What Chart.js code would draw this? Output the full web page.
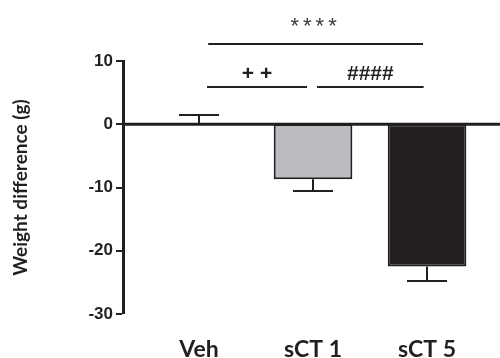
<!DOCTYPE html>
<html>
<head>
<meta charset="utf-8">
<script src="https://cdn.jsdelivr.net/npm/chart.js@4/dist/chart.umd.min.js"></script>
<style>
  html, body { margin: 0; padding: 0; background: #fff; }
  #wrap { width: 500px; height: 358px; }
</style>
</head>
<body>
<div id="wrap"><canvas id="weightChart"></canvas></div>
<script>
// groups and their mean weight change (g) with SEM
const groups = ['Veh', 'sCT 1', 'sCT 5'];
const meanDiff = [0.1, -8.7, -22.5];
const semDiff = [1.4, 1.85, 2.3];
const yTicks = [-30, -20, -10, 0, 10];

// significance brackets: from group index, to group index, height (g), label
const bracketFrom = [0.08, 0.07, 1.035];
const bracketTo = [1.965, 0.947, 1.97];
const bracketAt = [12.7, 5.9, 5.9];
const bracketLabel = ['****', '+ +', '####'];

const INK = '#231f20';
const FILLS = ['#ffffff', '#bbbcbf', '#231f20'];

// zero line across the plot, then error bars (only away from zero, like Prism)
const errorBars = {
    id: 'errorBars',
    afterDatasetsDraw(chart) {
        const { ctx, chartArea, scales: { x, y } } = chart;
        ctx.save();
        ctx.strokeStyle = INK;
        ctx.lineWidth = 3;
        const zero = y.getPixelForValue(0);
        ctx.beginPath();
        ctx.moveTo(chartArea.left, zero);
        ctx.lineTo(chartArea.right, zero);
        ctx.stroke();

        ctx.lineWidth = 2;
        meanDiff.forEach((m, i) => {
            const px = Math.round(x.getPixelForValue(i));
            const end = m >= 0 ? m + semDiff[i] : m - semDiff[i];
            const y0 = y.getPixelForValue(m);
            const y1 = Math.round(y.getPixelForValue(end));
            ctx.beginPath();
            ctx.moveTo(px, y0);
            ctx.lineTo(px, y1);
            ctx.moveTo(px - 20, y1);
            ctx.lineTo(px + 20, y1);
            ctx.stroke();
        });
        ctx.restore();
    }
};

const brackets = {
    id: 'brackets',
    afterDraw(chart) {
        const { ctx, scales: { x, y } } = chart;
        ctx.save();
        ctx.strokeStyle = INK;
        ctx.fillStyle = INK;
        ctx.lineWidth = 2;
        ctx.textAlign = 'center';
        ctx.textBaseline = 'alphabetic';
        bracketLabel.forEach((label, i) => {
            const x0 = x.getPixelForValue(bracketFrom[i]);
            const x1 = x.getPixelForValue(bracketTo[i]);
            const py = Math.round(y.getPixelForValue(bracketAt[i]));
            ctx.beginPath();
            ctx.moveTo(x0, py);
            ctx.lineTo(x1, py);
            ctx.stroke();
            const stars = label.includes('*');
            ctx.font = stars ? '22px "Liberation Sans"' : 'bold 21px "Liberation Sans"';
            ctx.letterSpacing = stars ? '4px' : '0px';
            ctx.fillStyle = stars ? '#3a3a3a' : INK;
            ctx.fillText(label, (x0 + x1) / 2, py - (stars ? 11 : 7));
        });
        ctx.restore();
    }
};

new Chart(document.getElementById('weightChart'), {
    type: 'bar',
    data: {
        datasets: [{
            data: meanDiff.map((v, i) => ({ x: i, y: v })),
            backgroundColor: FILLS,
            borderColor: INK,
            borderWidth: 2,
            borderSkipped: false,
            categoryPercentage: 1,
            barPercentage: 0.69
        }]
    },
    options: {
        responsive: true,
        maintainAspectRatio: false,
        animation: false,
        layout: { padding: { top: 61, right: 0, bottom: 0, left: 0 } },
        plugins: {
            legend: { display: false },
            tooltip: { enabled: false }
        },
        scales: {
            x: {
                type: 'linear',
                min: -0.667,
                max: 2.64,
                offset: false,
                grid: { display: false, offset: false },
                border: { display: false },
                afterBuildTicks: (scale) => {
                    scale.ticks = groups.map((_, i) => ({ value: i }));
                },
                afterFit: (scale) => { scale.height = 44; },
                ticks: {
                    autoSkip: false,
                    maxRotation: 0,
                    padding: 14,
                    color: INK,
                    font: { family: 'Lato', weight: 'bold', size: 23 },
                    callback: (v) => groups[v] ?? ''
                }
            },
            y: {
                min: -30,
                max: 10,
                z: 1,
                afterBuildTicks: (scale) => {
                    scale.ticks = yTicks.map(v => ({ value: v }));
                },
                afterFit: (scale) => { scale.width = 123; },
                grid: {
                    drawOnChartArea: false,
                    lineWidth: 0,
                    tickColor: INK,
                    tickLength: 7,
                    tickWidth: 2
                },
                border: { display: true, color: INK, width: 3 },
                ticks: {
                    padding: 3,
                    color: INK,
                    font: { family: '"Liberation Sans"', weight: 'bold', size: 17 },
                    callback: (v) => String(v)
                },
                title: {
                    display: true,
                    text: 'Weight difference (g)',
                    color: INK,
                    font: { family: 'Lato', weight: 'bold', size: 19 },
                    padding: { top: 9, bottom: 0 }
                }
            }
        }
    },
    plugins: [errorBars, brackets]
});
</script>
</body>
</html>
